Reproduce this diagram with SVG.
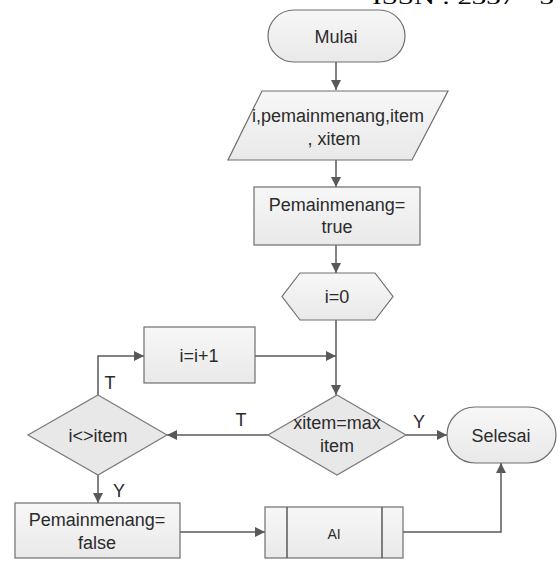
<svg xmlns="http://www.w3.org/2000/svg" width="558" height="562" viewBox="0 0 558 562">
<defs>
<linearGradient id="g" x1="0" y1="0" x2="0" y2="1">
<stop offset="0" stop-color="#f7f7f7"/>
<stop offset="1" stop-color="#e9e9e9"/>
</linearGradient>
<marker id="ah" viewBox="0 0 10 10" refX="10" refY="5" markerWidth="10" markerHeight="10" markerUnits="userSpaceOnUse" orient="auto">
<path d="M0,0 L10,5 L0,10 z" fill="#595959"/>
</marker>
</defs>
<style>
.s{fill:url(#g);stroke:#6e6e6e;stroke-width:1.2}
.d{fill:#e8e8e8;stroke:#7a7a7a;stroke-width:1.2}
.t{font-family:"Liberation Sans",Arial,sans-serif;font-size:18px;fill:#2b2b2b;text-anchor:middle}
.c{fill:none;stroke:#595959;stroke-width:1.5;marker-end:url(#ah)}
.p{fill:none;stroke:#595959;stroke-width:1.5}
.h{font-family:"Liberation Serif","Times New Roman",serif;font-size:22px;fill:#000}
</style>
<rect width="558" height="562" fill="#fff"/>
<text class="h" x="372" y="4" textLength="182" lengthAdjust="spacingAndGlyphs">ISSN : 2337 - 3</text>
<g id="connectors">
<path class="c" d="M336,62 V90"/>
<path class="c" d="M336,160 V187"/>
<path class="c" d="M336,245 V273"/>
<path class="c" d="M336,320 V395"/>
<path class="c" d="M255,356 H336"/>
<path class="c" d="M406,435 H447"/>
<path class="c" d="M268,435 H167"/>
<path class="c" d="M98,395 V356 H144"/>
<path class="c" d="M98,475 V503"/>
<path class="c" d="M180,532 H265"/>
<path class="c" d="M403,532 H501 V463"/>
<text class="t" x="110" y="389">T</text>
<text class="t" x="241" y="426">T</text>
<text class="t" x="419" y="428">Y</text>
<text class="t" x="119" y="497">Y</text>
</g>
<g id="mulai">
<rect class="s" x="268" y="10" width="137" height="52" rx="26"/>
<text class="t" x="336" y="43">Mulai</text>
</g>
<g id="input">
<path class="s" d="M262,91 H448 L412,160 H228 Z"/>
<text class="t" x="338" y="122">i,pemainmenang,item</text>
<text class="t" x="334" y="145">, xitem</text>
</g>
<g id="init">
<rect class="s" x="254" y="187" width="166" height="58"/>
<text class="t" x="337" y="211">Pemainmenang=</text>
<text class="t" x="337" y="233">true</text>
</g>
<g id="loop">
<path class="s" d="M300,273 H375 L393,296.5 L375,320 H300 L282,296.5 Z"/>
<text class="t" x="337" y="303">i=0</text>
</g>
<g id="inc">
<rect class="s" x="144" y="327" width="111" height="56"/>
<text class="t" x="199" y="362">i=i+1</text>
</g>
<g id="cek">
<path class="d" d="M337,395 L406,435 L337,475 L268,435 Z"/>
<text class="t" x="337" y="429">xitem=max</text>
<text class="t" x="337" y="452">item</text>
</g>
<g id="ne">
<path class="d" d="M98,395 L167,435 L98,475 L28,435 Z"/>
<text class="t" x="98" y="442">i&lt;&gt;item</text>
</g>
<g id="selesai">
<rect class="s" x="447" y="407" width="109" height="56" rx="28"/>
<text class="t" x="501" y="442">Selesai</text>
</g>
<g id="false">
<rect class="s" x="15" y="503" width="165" height="55"/>
<text class="t" x="97" y="526">Pemainmenang=</text>
<text class="t" x="97" y="549">false</text>
</g>
<g id="ai">
<rect class="s" x="265" y="507" width="138" height="51"/>
<path class="p" d="M287,507 V558 M382,507 V558"/>
<text class="t" x="334" y="539" style="font-size:14px">AI</text>
</g>
</svg>
